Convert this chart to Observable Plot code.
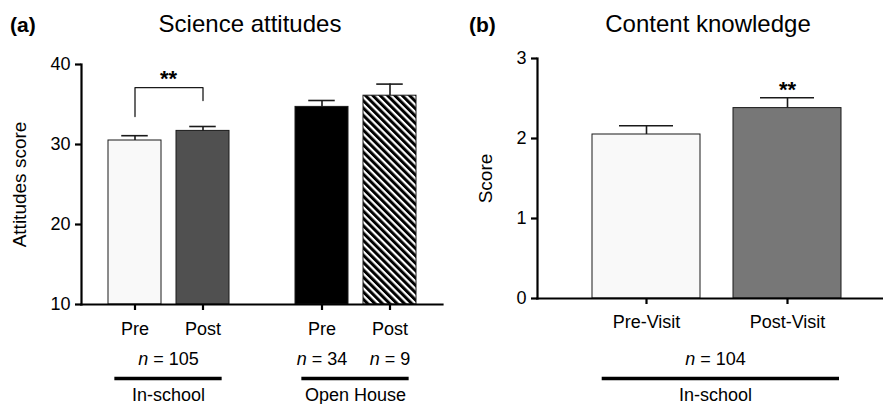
<!DOCTYPE html>
<html><head><meta charset="utf-8">
<script src="https://cdn.jsdelivr.net/npm/d3@7"></script>
<script src="https://cdn.jsdelivr.net/npm/@observablehq/plot@0.6"></script>
<style>
html,body{margin:0;padding:0;background:#fff;}
#wrap{position:relative;width:883px;height:404px;overflow:hidden;background:#fff;font-family:"Liberation Sans",Arial,Helvetica,sans-serif;color:#000;}
#wrap svg{position:absolute;top:0;}
.lbl{position:absolute;white-space:nowrap;color:#000;}
</style></head><body><div id="wrap"></div>
<script>
// ---------- Panel (a): Science attitudes ----------
const titleA = "Science attitudes";
const yLabelA = "Attitudes score";
const yDomainA = [10, 40];
const yTicksA = [10, 20, 30, 40];
const groupsA = ["In-school", "Open House"];
const condsA = ["Pre", "Post"];
const barGroupA = ["In-school", "In-school", "Open House", "Open House"];
const barCondA = ["Pre", "Post", "Pre", "Post"];
const meanA = [30.5, 31.7, 34.7, 36.1];
const errA = [0.6, 0.55, 0.8, 1.45];
const nGroupLevelGroupA = ["In-school"];
const nGroupLevelA = [105];
const nBarGroupA = ["Open House", "Open House"];
const nBarCondA = ["Pre", "Post"];
const nBarA = [34, 9];
const bracketGroupA = ["In-school", "In-school", "In-school", "In-school"];
const bracketCondA = ["Pre", "Pre", "Post", "Post"];
const bracketValA = [33.5, 37.1, 37.1, 35.5];
const sigLabelA = "**";

// ---------- Panel (b): Content knowledge ----------
const titleB = "Content knowledge";
const yLabelB = "Score";
const yDomainB = [0, 3];
const yTicksB = [0, 1, 2, 3];
const condsB = ["Pre-Visit", "Post-Visit"];
const meanB = [2.05, 2.38];
const errB = [0.11, 0.13];
const nB = 104;
const groupB = "In-school";
const sigCondB = ["Post-Visit"];
const sigLabelB = "**";

// ---------- styles ----------
const fillsA = ["#f9f9f9", "#505050", "#000000", "url(#hatchA)"];
const fillsB = ["#f9f9f9", "#777777"];
const FONT = '"Liberation Sans", Arial, Helvetica, sans-serif';

// tables built from the arrays
const barsA = meanA.map((m, i) => ({group: barGroupA[i], cond: barCondA[i], mean: m, top: m + errA[i], fill: fillsA[i]}));
const nGroupRowsA = nGroupLevelA.map((n, i) => ({group: nGroupLevelGroupA[i], label: "n = " + n}));
const nBarRowsA = nBarA.map((n, i) => ({group: nBarGroupA[i], cond: nBarCondA[i], label: "n = " + n}));
const bracketA = bracketValA.map((v, i) => ({group: bracketGroupA[i], cond: bracketCondA[i], v}));
const sigA = [{group: bracketGroupA[0], v: d3.max(bracketValA), label: sigLabelA}];

const barsB = meanB.map((m, i) => ({cond: condsB[i], mean: m, top: m + errB[i], fill: fillsB[i]}));
const sigB = sigCondB.map(c => ({cond: c, v: barsB.find(b => b.cond === c).top, label: sigLabelB}));

const plotA = Plot.plot({
  width: 450, height: 404,
  marginLeft: 81, marginRight: 7, marginTop: 64, marginBottom: 100,
  style: {fontFamily: FONT, fontSize: "17px", color: "#000", background: "transparent", overflow: "visible"},
  fx: {domain: groupsA, paddingInner: 0.067, paddingOuter: 0, axis: null, label: null},
  x: {domain: condsA, paddingInner: 0.2263, paddingOuter: 0.388, axis: null, label: null},
  y: {domain: yDomainA, axis: null},
  color: {type: "identity"},
  marks: [
    Plot.barY(barsA, {fx: "group", x: "cond", y1: yDomainA[0], y2: "mean", fill: "fill", stroke: "#1a1a1a", strokeWidth: 1}),
    Plot.ruleX(barsA, {fx: "group", x: "cond", y1: "mean", y2: "top", stroke: "#1a1a1a", strokeWidth: 1.6}),
    Plot.tickY(barsA, {fx: "group", x: "cond", y: "top", insetLeft: 13.25, insetRight: 13.25, stroke: "#1a1a1a", strokeWidth: 1.6}),
    Plot.frame({anchor: "left", facet: "super", strokeWidth: 2.2}),
    Plot.frame({anchor: "bottom", facet: "super", strokeWidth: 2.2}),
    Plot.axisY({ticks: yTicksA, tickFormat: d3.format("d"), tickSize: 6, tickPadding: 5, strokeWidth: 2.2, fontSize: 18,
      label: yLabelA, labelAnchor: "center", labelOffset: 69, labelArrow: "none"}),
    Plot.axisX({tickSize: 6, tickPadding: 12, strokeWidth: 2.2, fontSize: 18, label: null}),
    Plot.line(bracketA, {fx: "group", x: "cond", y: "v", stroke: "#1a1a1a", strokeWidth: 1.3}),
    Plot.text(sigA, {fx: "group", y: "v", text: "label", lineAnchor: "bottom", dy: -2, fontSize: 22, fontWeight: "bold"}),
    Plot.text(nGroupRowsA, {fx: "group", text: "label", frameAnchor: "bottom", lineAnchor: "bottom", dy: 60, fontSize: 18}),
    Plot.text(nBarRowsA, {fx: "group", x: "cond", text: "label", frameAnchor: "bottom", lineAnchor: "bottom", dy: 60, fontSize: 18}),
    Plot.ruleY(groupsA, {fx: d => d, y: yDomainA[0], dy: 74, insetLeft: 33.35, insetRight: 33.35, strokeWidth: 3.5, stroke: "#000"}),
    Plot.text(groupsA, {fx: d => d, text: d => d, frameAnchor: "bottom", lineAnchor: "bottom", dy: 96, fontSize: 18})
  ]
});

const plotB = Plot.plot({
  width: 433, height: 404,
  marginLeft: 87, marginRight: 0, marginTop: 58, marginBottom: 106,
  style: {fontFamily: FONT, fontSize: "17px", color: "#000", background: "transparent", overflow: "visible"},
  x: {domain: condsB, paddingInner: 0.232, paddingOuter: 0.3345, align: 0.565, axis: null, label: null},
  y: {domain: yDomainB, axis: null},
  color: {type: "identity"},
  marks: [
    Plot.barY(barsB, {x: "cond", y1: yDomainB[0], y2: "mean", fill: "fill", stroke: "#1a1a1a", strokeWidth: 1}),
    Plot.ruleX(barsB, {x: "cond", y1: "mean", y2: "top", stroke: "#1a1a1a", strokeWidth: 1.6}),
    Plot.tickY(barsB, {x: "cond", y: "top", insetLeft: 27, insetRight: 27, stroke: "#1a1a1a", strokeWidth: 1.6}),
    Plot.frame({anchor: "left", strokeWidth: 2.2}),
    Plot.frame({anchor: "bottom", strokeWidth: 2.2}),
    Plot.axisY({ticks: yTicksB, tickFormat: d3.format("d"), tickSize: 6, tickPadding: 5, strokeWidth: 2.2, fontSize: 18,
      label: yLabelB, labelAnchor: "center", labelOffset: 59, labelArrow: "none"}),
    Plot.axisX({tickSize: 6, tickPadding: 11, strokeWidth: 2.2, fontSize: 18, label: null}),
    Plot.text(sigB, {x: "cond", y: "v", text: "label", lineAnchor: "bottom", dy: -1, fontSize: 22, fontWeight: "bold"}),
    Plot.text([groupB], {text: () => "n = " + nB, frameAnchor: "bottom", lineAnchor: "bottom", dx: 5, dy: 66, fontSize: 18}),
    Plot.ruleY([groupB], {y: yDomainB[0], dy: 80, insetLeft: 64.7, insetRight: 44, strokeWidth: 3.5, stroke: "#000"}),
    Plot.text([groupB], {text: d => d, frameAnchor: "bottom", lineAnchor: "bottom", dx: 5, dy: 102, fontSize: 18})
  ]
});

function polish(svg, yLabel) {
  svg.querySelectorAll("text").forEach(t => {
    const s = t.textContent;
    if (/^n = /.test(s) && t.children.length === 0) {
      t.textContent = "";
      const ts = document.createElementNS("http://www.w3.org/2000/svg", "tspan");
      ts.setAttribute("font-style", "italic");
      ts.textContent = "n";
      t.appendChild(ts);
      t.appendChild(document.createTextNode(s.slice(1)));
    }
    if (s === yLabel) t.style.fontSize = "19px";
  });
}
polish(plotA, yLabelA);
polish(plotB, yLabelB);

// hatch pattern for the Open House post bar
const defs = document.createElementNS("http://www.w3.org/2000/svg", "defs");
defs.innerHTML = '<pattern id="hatchA" patternUnits="userSpaceOnUse" width="5.2" height="5.2" patternTransform="rotate(-45)"><rect width="5.2" height="5.2" fill="#ffffff"/><rect width="3" height="5.2" fill="#000000"/></pattern>';
plotA.insertBefore(defs, plotA.firstChild);

const wrap = document.getElementById("wrap");
plotA.style.left = "0px";
plotB.style.left = "450px";
wrap.appendChild(plotA);
wrap.appendChild(plotB);

function addLabel(text, left, top, size, bold, centerWidth) {
  const d = document.createElement("div");
  d.className = "lbl";
  d.textContent = text;
  d.style.fontSize = size + "px";
  d.style.lineHeight = size + "px";
  d.style.fontWeight = bold ? "bold" : "normal";
  d.style.top = top + "px";
  if (centerWidth) {
    d.style.left = (left - centerWidth / 2) + "px";
    d.style.width = centerWidth + "px";
    d.style.textAlign = "center";
  } else {
    d.style.left = left + "px";
  }
  wrap.appendChild(d);
}
addLabel("(a)", 10, 14, 21, true);
addLabel(titleA, 250, 11.7, 24, false, 300);
addLabel("(b)", 469, 14, 21, true);
addLabel(titleB, 708, 11.7, 24, false, 300);
</script></body></html>
